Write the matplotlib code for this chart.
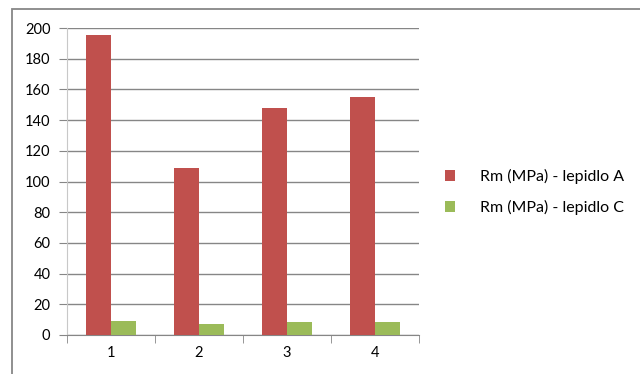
import numpy as np
from matplotlib import pyplot as plt
from matplotlib.patches import Rectangle

categories = ["1", "2", "3", "4"]
rm_a = [195.5, 109, 148, 155]
rm_c = [9, 7, 8.5, 8.5]
labels = ["Rm (MPa) - lepidlo A", "Rm (MPa) - lepidlo C"]

plt.rcParams['font.family'] = ['Lato', 'DejaVu Sans']

fig = plt.figure(figsize=(6.4, 3.74), dpi=100)
ax = fig.add_axes([67 / 640, 1 - 335 / 374, 352 / 640, 307 / 374])

x = np.arange(len(categories))
w = 0.284
b1 = ax.bar(x - w / 2, rm_a, w, color='#C0504D', label=labels[0], zorder=3)
b2 = ax.bar(x + w / 2, rm_c, w, color='#9BBB59', label=labels[1], zorder=3)

ax.set_xlim(-0.5, len(categories) - 0.5)
ax.set_ylim(0, 200)
ax.set_yticks(range(0, 201, 20))
ax.set_xticks(x)
ax.set_xticklabels(categories)
# category boundary ticks
ax.set_xticks(np.arange(-0.5, len(categories), 1), minor=True)
ax.tick_params(axis='x', which='major', length=0, pad=8, labelsize=10.5)
ax.tick_params(axis='x', which='minor', length=6, color='#868686')
ax.tick_params(axis='y', length=6, color='#868686', labelsize=10.5, pad=6)

ax.grid(axis='y', color='#868686', linewidth=1, zorder=0)
for s in ['top', 'right']:
    ax.spines[s].set_visible(False)
ax.spines['left'].set_color('#C8C8C8')
ax.spines['bottom'].set_color('#868686')

ax.legend(handles=[b1, b2], loc='center left', bbox_to_anchor=(445 / 640, 1 - 192 / 374),
          bbox_transform=fig.transFigure, frameon=False, fontsize=11.5,
          borderpad=0, borderaxespad=0,
          handlelength=0.65, handleheight=0.65, handletextpad=1.55, labelspacing=1.0)

# outer chart border
fig.patches.append(Rectangle((12 / 640, -0.1), 1.2, 1 - 9 / 374 + 0.1,
                             transform=fig.transFigure, fill=False,
                             edgecolor='#878787', linewidth=1.3))

fig.savefig('out.png', dpi=100)
